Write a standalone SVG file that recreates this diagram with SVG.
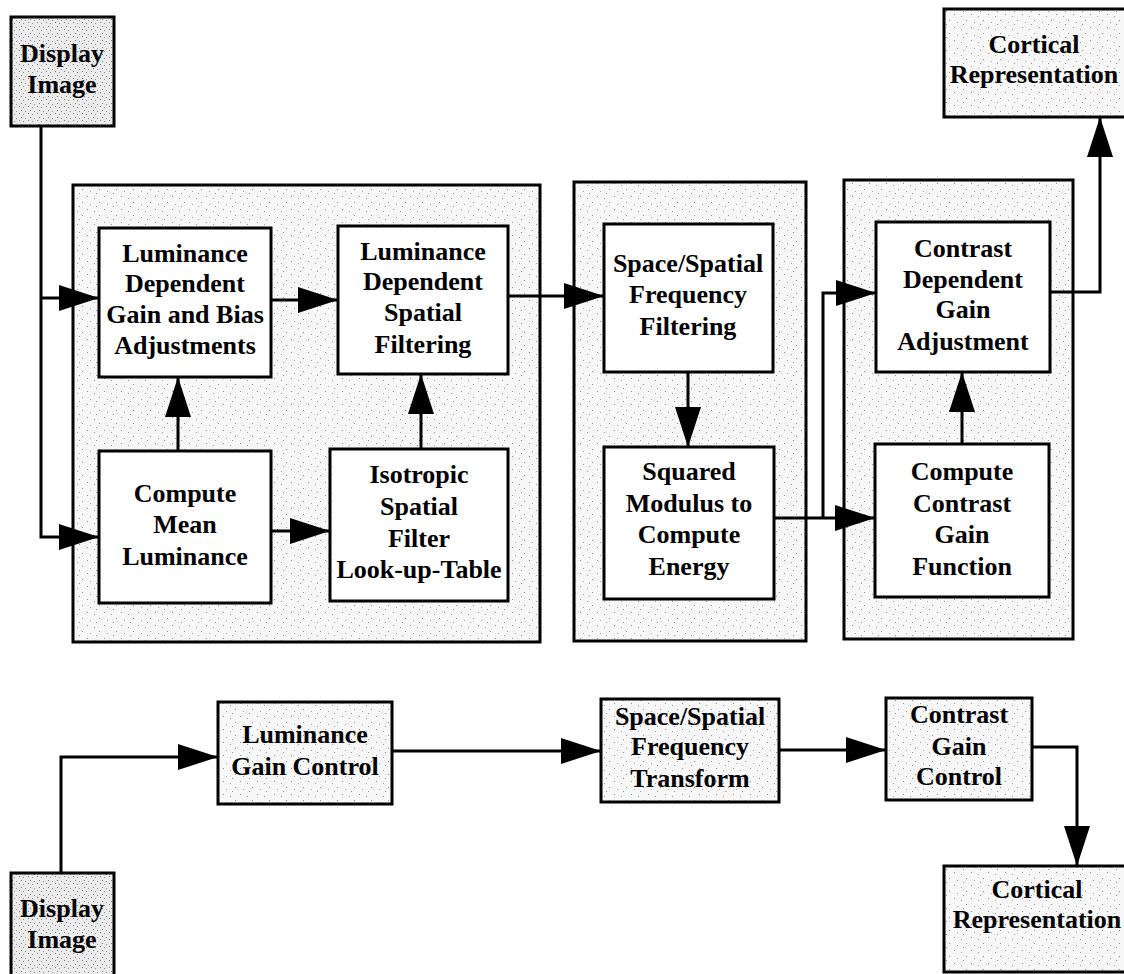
<svg xmlns="http://www.w3.org/2000/svg" width="1124" height="974" viewBox="0 0 1124 974">
<defs>
<pattern id="stip" width="17" height="13" patternUnits="userSpaceOnUse">
<rect width="17" height="13" fill="#f7f7f7"/>
<rect x="2" y="1" width="1" height="1" fill="#8a8a8a"/>
<rect x="9" y="3" width="1" height="1" fill="#9a9a9a"/>
<rect x="14" y="7" width="1" height="1" fill="#8a8a8a"/>
<rect x="5" y="9" width="1" height="1" fill="#a0a0a0"/>
<rect x="11" y="11" width="1" height="1" fill="#909090"/>
</pattern>
<pattern id="stipd" width="9" height="7" patternUnits="userSpaceOnUse">
<rect width="9" height="7" fill="#ebebeb"/>
<rect x="1" y="1" width="1" height="1" fill="#7a7a7a"/>
<rect x="5" y="2" width="1" height="1" fill="#8a8a8a"/>
<rect x="3" y="5" width="1" height="1" fill="#7a7a7a"/>
<rect x="7" y="6" width="1" height="1" fill="#909090"/>
</pattern>
<marker id="ah" markerUnits="userSpaceOnUse" markerWidth="40" markerHeight="26" refX="40" refY="13" orient="auto">
<path d="M0,0 L40,13 L0,26 z" fill="#000"/>
</marker>
</defs>
<style>
.frame{fill:url(#stip);stroke:#000;stroke-width:3}
.src{fill:url(#stipd);stroke:#000;stroke-width:3}
.box{fill:#fff;stroke:#000;stroke-width:3}
.c{fill:none;stroke:#000;stroke-width:3}
.a{fill:none;stroke:#000;stroke-width:3;marker-end:url(#ah)}
text{font-family:"Liberation Serif","Times New Roman",serif;font-weight:bold;font-size:26px;text-anchor:middle;fill:#000}
</style>

<g id="frames">
<rect id="frame-luminance" class="frame" x="73" y="185" width="467" height="457"/>
<rect id="frame-spatial" class="frame" x="574" y="182" width="232" height="459"/>
<rect id="frame-contrast" class="frame" x="844" y="180" width="229" height="459"/>
</g>

<g id="connectors">
<path class="a" d="M41,126 V537 H99"/>
<path class="a" d="M41,298 H99"/>
<path class="a" d="M271,300 H338"/>
<path class="a" d="M178,451 V377"/>
<path class="a" d="M271,531 H330"/>
<path class="a" d="M421,449 V374"/>
<path class="a" d="M508,296 H604"/>
<path class="a" d="M688,372 V447"/>
<path class="a" d="M774,518 H875"/>
<path class="a" d="M823,518 V293 H876"/>
<path class="a" d="M962,444 V372"/>
<path class="a" d="M1050,292 H1100 V117"/>
<path class="a" d="M61,873 V757 H218"/>
<path class="a" d="M392,751 H601"/>
<path class="a" d="M779,750 H886"/>
<path class="a" d="M1032,747 H1077 V866"/>
</g>

<g id="display-image-top">
<rect class="src" x="11" y="17" width="103" height="109"/>
<text x="62" y="62">Display</text>
<text x="62" y="93">Image</text>
</g>

<g id="cortical-top">
<rect class="frame" x="944" y="9" width="184" height="108"/>
<text x="1034" y="53">Cortical</text>
<text x="1034" y="83">Representation</text>
</g>

<g id="lum-gain-bias">
<rect class="box" x="99" y="228" width="172" height="149"/>
<text x="185" y="262">Luminance</text>
<text x="185" y="292">Dependent</text>
<text x="185" y="323">Gain and Bias</text>
<text x="185" y="354">Adjustments</text>
</g>

<g id="lum-spatial-filtering">
<rect class="box" x="338" y="226" width="170" height="148"/>
<text x="423" y="260">Luminance</text>
<text x="423" y="290">Dependent</text>
<text x="423" y="321">Spatial</text>
<text x="423" y="353">Filtering</text>
</g>

<g id="compute-mean">
<rect class="box" x="99" y="451" width="172" height="152"/>
<text x="185" y="502">Compute</text>
<text x="185" y="533">Mean</text>
<text x="185" y="565">Luminance</text>
</g>

<g id="isotropic">
<rect class="box" x="330" y="449" width="178" height="152"/>
<text x="419" y="483">Isotropic</text>
<text x="419" y="515">Spatial</text>
<text x="419" y="547">Filter</text>
<text x="419" y="578">Look-up-Table</text>
</g>

<g id="space-filtering">
<rect class="box" x="604" y="224" width="169" height="148"/>
<text x="688" y="272">Space/Spatial</text>
<text x="688" y="303">Frequency</text>
<text x="688" y="335">Filtering</text>
</g>

<g id="squared-modulus">
<rect class="box" x="604" y="447" width="170" height="152"/>
<text x="689" y="480">Squared</text>
<text x="689" y="512">Modulus to</text>
<text x="689" y="543">Compute</text>
<text x="689" y="575">Energy</text>
</g>

<g id="contrast-dependent">
<rect class="box" x="876" y="222" width="174" height="150"/>
<text x="963" y="257">Contrast</text>
<text x="963" y="288">Dependent</text>
<text x="963" y="318">Gain</text>
<text x="963" y="350">Adjustment</text>
</g>

<g id="compute-contrast">
<rect class="box" x="875" y="444" width="174" height="153"/>
<text x="962" y="480">Compute</text>
<text x="962" y="512">Contrast</text>
<text x="962" y="543">Gain</text>
<text x="962" y="575">Function</text>
</g>

<g id="display-image-bottom">
<rect class="src" x="11" y="873" width="103" height="110"/>
<text x="62" y="917">Display</text>
<text x="62" y="948">Image</text>
</g>

<g id="lum-gain-control">
<rect class="frame" x="218" y="702" width="174" height="102"/>
<text x="305" y="743">Luminance</text>
<text x="305" y="775">Gain Control</text>
</g>

<g id="space-transform">
<rect class="frame" x="601" y="699" width="178" height="103"/>
<text x="690" y="725">Space/Spatial</text>
<text x="690" y="755">Frequency</text>
<text x="690" y="787">Transform</text>
</g>

<g id="contrast-gain-control">
<rect class="frame" x="886" y="698" width="146" height="102"/>
<text x="959" y="723">Contrast</text>
<text x="959" y="755">Gain</text>
<text x="959" y="785">Control</text>
</g>

<g id="cortical-bottom">
<rect class="frame" x="944" y="866" width="184" height="106"/>
<text x="1037" y="898">Cortical</text>
<text x="1037" y="928">Representation</text>
</g>
</svg>
